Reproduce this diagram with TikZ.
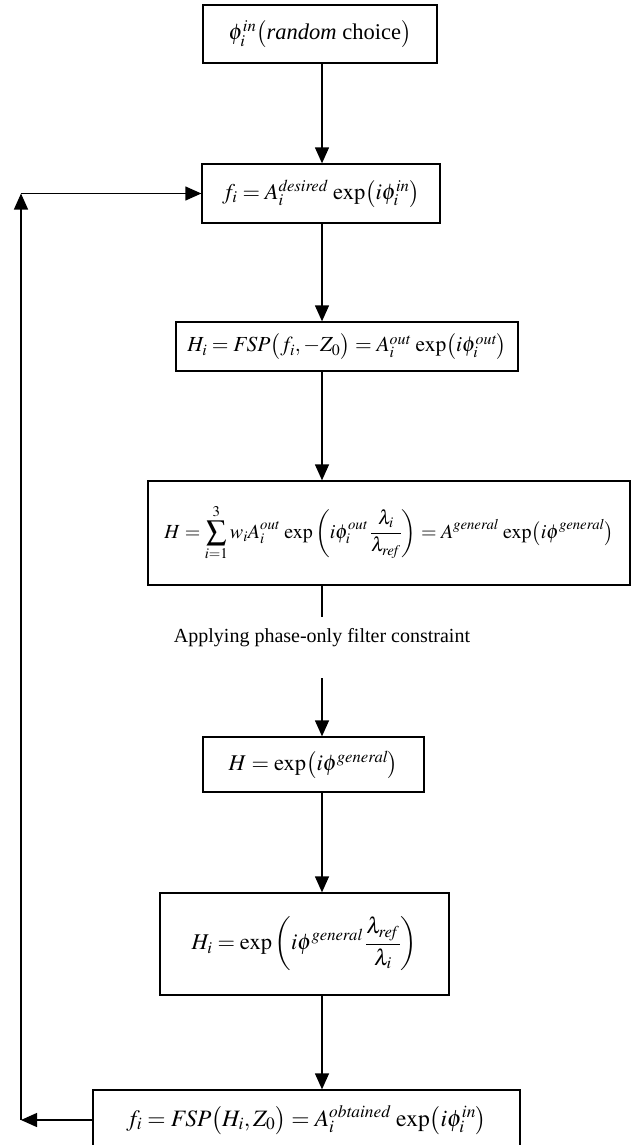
\documentclass[tikz,border=0pt]{standalone}
\usepackage{mathptmx}
\usepackage{fontspec}
\setmainfont{Liberation Serif}
\usetikzlibrary{arrows.meta,calc}
\begin{document}
\begin{tikzpicture}[x=1pt,y=-1pt,
  box/.style={draw, line width=1.3pt, inner sep=0pt, font=\fontsize{22.5}{26}\selectfont},
  arr/.style={line width=1.3pt, -{Triangle[length=16pt,width=14pt]}},
  plain/.style={line width=1.3pt},
  lbl/.style={font=\fontsize{20}{24}\selectfont, inner sep=0pt}]
\useasboundingbox (0,0) rectangle (639,1145);
\clip (0,0) rectangle (639,1145);
\node[box, minimum width=234pt, minimum height=58pt] (b1) at (320,34)
  {$\phi_i^{\mathit{in}}\bigl($\textit{random} choice$\bigr)$};
\node[box, minimum width=238pt, minimum height=59pt] (b2) at (321,193.5)
  {$f_i = A_i^{\mathit{desired}}\,\exp\bigl(i\phi_i^{\mathit{in}}\bigr)$};
\node[box, minimum width=342pt, minimum height=49pt, font=\fontsize{21.5}{25}\selectfont] (b3) at (347,346.5)
  {$H_i = \mathit{FSP}\bigl(f_i,-Z_0\bigr) = A_i^{\mathit{out}}\,\exp\bigl(i\phi_i^{\mathit{out}}\bigr)$};
\node[box, minimum width=482pt, minimum height=104pt, font=\fontsize{20}{24}\selectfont] (b4) at (389,533)
  {$\displaystyle H=\sum_{i=1}^{3} w_i A_i^{\mathit{out}}\,\exp\left(i\phi_i^{\mathit{out}}\,\frac{\lambda_i}{\lambda_{\mathit{ref}}}\right) = A^{\mathit{general}}\,\exp\bigl(i\phi^{\mathit{general}}\bigr)$};
\node[lbl] (lab) at (322,638) {Applying phase-only filter constraint};
\node[box, minimum width=221pt, minimum height=55pt] (b5) at (313.5,764.5)
  {$H = \exp\bigl(i\phi^{\mathit{general}}\bigr)$};
\node[box, minimum width=289pt, minimum height=102pt] (b6) at (304.5,944)
  {$\displaystyle H_i = \exp\left(i\phi^{\mathit{general}}\,\frac{\lambda_{\mathit{ref}}}{\lambda_i}\right)$};
\node[box, minimum width=427pt, minimum height=60pt, font=\fontsize{23.5}{27}\selectfont] (b7) at (306.5,1120)
  {$f_i = \mathit{FSP}\bigl(H_i, Z_0\bigr) = A_i^{\mathit{obtained}}\,\exp\bigl(i\phi_i^{\mathit{in}}\bigr)$};
\coordinate (ax) at (322,0);
\coordinate (c1) at (322,617);
\coordinate (c2) at (322,678);
\coordinate (fx) at (21,0);
\draw[arr] (b1.south -| ax) -- (b2.north -| ax);
\draw[arr] (b2.south -| ax) -- (b3.north -| ax);
\draw[arr] (b3.south -| ax) -- (b4.north -| ax);
\draw[plain] (b4.south -| ax) -- (c1);
\draw[arr] (c2) -- (b5.north -| ax);
\draw[arr] (b5.south -| ax) -- (b6.north -| ax);
\draw[arr] (b6.south -| ax) -- (b7.north -| ax);
\coordinate (fb) at (b7.west -| fx);
\coordinate (ft) at (b2.west -| fx);
\draw[arr] (b7.west) -- (fb);
\draw[arr] (fb) -- (ft);
\draw[arr] (ft) -- (b2.west);
\end{tikzpicture}
\end{document}
